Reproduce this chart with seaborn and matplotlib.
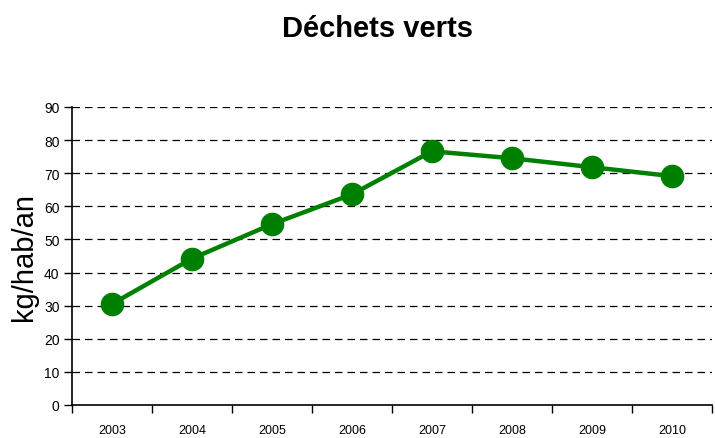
import matplotlib
matplotlib.use("Agg")
import matplotlib.pyplot as plt
import seaborn as sns
import pandas as pd
import numpy as np

years = ["2003", "2004", "2005", "2006", "2007", "2008", "2009", "2010"]
values = [30.5, 44.2, 54.6, 63.6, 76.6, 74.5, 71.8, 69.1]
yticks = [0, 10, 20, 30, 40, 50, 60, 70, 80, 90]

sns.set_theme(style="white")
plt.rcParams['font.family'] = ['Liberation Sans', 'DejaVu Sans']
plt.rcParams['text.color'] = 'black'
plt.rcParams['xtick.color'] = 'black'
plt.rcParams['ytick.color'] = 'black'
plt.rcParams['axes.labelcolor'] = 'black'

df = pd.DataFrame({"annee": years, "val": values})

fig = plt.figure(figsize=(7.15, 4.39), dpi=100)
ax = fig.add_axes([0.1007, 0.0752, 0.895, 0.679])

sns.lineplot(data=df, x="annee", y="val", ax=ax, color="#008000", linewidth=3.2,
             marker="o", markersize=17, markeredgewidth=0, sort=False, zorder=3)

ax.set_ylim(0, 90)
ax.set_xlim(-0.5, len(years) - 0.5)
ax.set_yticks(yticks)
ax.set_yticklabels([str(v) for v in yticks], fontsize=10)
for v in yticks[1:]:
    ax.axhline(v, color="black", linestyle=(0, (6, 4)), linewidth=0.9, zorder=1)

ax.set_xticks(np.arange(-0.5, len(years), 1.0))
ax.set_xticklabels([])
ax.set_xticks(np.arange(len(years)), minor=True)
ax.set_xticklabels(years, minor=True, fontsize=9)
ax.tick_params(axis="x", which="major", direction="out", length=6, width=1, color="black", bottom=True)
ax.tick_params(axis="x", which="minor", length=0, pad=14)
ax.tick_params(axis="y", direction="out", length=6, width=1, color="black", left=True, pad=3)

for s in ["top", "right"]:
    ax.spines[s].set_visible(False)
for s in ["left", "bottom"]:
    ax.spines[s].set_color("black")
    ax.spines[s].set_linewidth(1.2)

ax.set_xlabel("")
ax.set_ylabel("kg/hab/an", fontsize=21, labelpad=4)
fig.text(0.528, 0.935, "Déchets verts", ha="center", va="center", fontsize=21, fontweight="bold")

fig.savefig("out.png", dpi=100)
